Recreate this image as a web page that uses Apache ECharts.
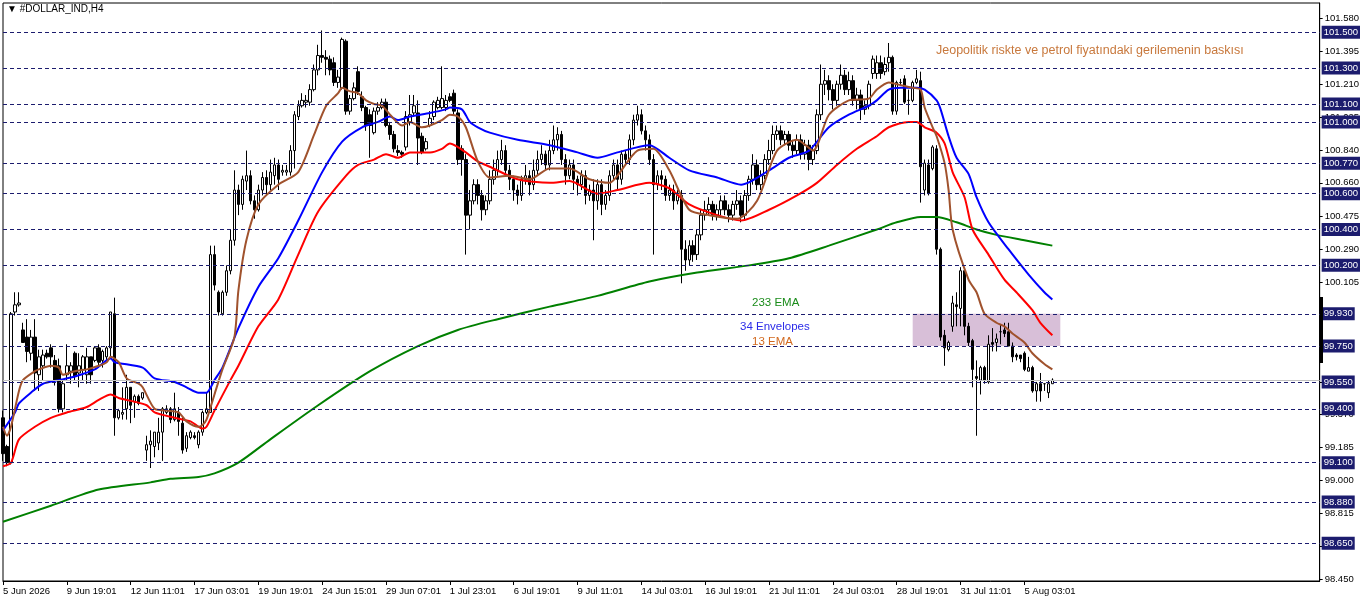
<!DOCTYPE html>
<html>
<head>
<meta charset="utf-8">
<script src="https://cdn.jsdelivr.net/npm/echarts@6/dist/echarts.min.js"></script>
<style>html,body{margin:0;padding:0;background:#fff}#c{width:1362px;height:603px}</style>
</head>
<body>
<div id="c"></div>
<script>
// ---- data ----
const tickLabels = ["5 Jun 2026","9 Jun 19:01","12 Jun 11:01","17 Jun 03:01","19 Jun 19:01","24 Jun 15:01","29 Jun 07:01","1 Jul 23:01","6 Jul 19:01","9 Jul 11:01","14 Jul 03:01","16 Jul 19:01","21 Jul 11:01","24 Jul 03:01","28 Jul 19:01","31 Jul 11:01","5 Aug 03:01"];
const barsPerLabel = 16;
const totalSlots = 331;

const opens = [99.35,99.19,99.10,99.94,99.98,99.84,99.80,99.71,99.80,99.59,
99.64,99.71,99.74,99.67,99.64,99.40,99.59,99.61,99.71,99.60,
99.62,99.59,99.69,99.67,99.74,99.67,99.69,99.74,99.93,99.35,
99.37,99.40,99.52,99.44,99.47,99.46,99.17,99.20,99.19,99.21,
99.27,99.38,99.40,99.34,99.38,99.32,99.18,99.24,99.25,99.20,
99.27,99.38,99.38,100.26,100.05,99.93,100.05,100.17,100.34,100.62,
100.54,100.67,100.70,100.56,100.51,100.62,100.69,100.65,100.70,100.76,
100.72,100.72,100.72,100.84,101.03,101.09,101.11,101.11,101.18,101.29,
101.37,101.36,101.35,101.33,101.22,101.19,101.45,101.06,101.13,101.28,
101.14,101.08,101.04,100.94,101.06,101.08,101.11,100.98,100.93,100.84,
100.83,100.86,101.00,101.05,101.05,100.92,100.85,100.98,101.03,101.08,
101.08,101.08,101.14,101.16,101.05,100.85,100.79,100.48,100.56,100.65,
100.59,100.51,100.56,100.68,100.73,100.79,100.84,100.73,100.68,100.62,
100.59,100.68,100.70,100.65,100.73,100.79,100.82,100.76,100.84,100.90,
100.93,100.79,100.70,100.76,100.68,100.65,100.70,100.59,100.62,100.56,
100.65,100.54,100.59,100.70,100.76,100.68,100.82,100.79,100.90,101.01,
101.04,100.95,100.90,100.79,100.65,100.70,100.68,100.59,100.62,100.56,
100.59,100.29,100.23,100.31,100.26,100.37,100.48,100.51,100.54,100.48,
100.51,100.56,100.51,100.48,100.54,100.56,100.48,100.59,100.68,100.76,
100.65,100.70,100.79,100.84,100.93,100.95,100.90,100.93,100.87,100.84,
100.90,100.82,100.87,100.79,100.84,101.04,101.21,101.23,101.18,101.12,
101.21,101.26,101.18,101.23,101.12,101.15,101.07,101.09,101.27,101.27,
101.33,101.28,101.33,101.36,101.06,101.22,101.24,101.12,101.12,101.22,
101.23,100.62,100.76,100.74,100.85,100.29,99.81,99.73,99.86,99.98,
99.96,100.17,99.86,99.78,99.58,99.56,99.63,99.55,99.77,99.77,
99.83,99.84,99.83,99.75,99.70,99.70,99.71,99.61,99.63,99.50,
99.54,99.54,99.49,99.54];

const closes = [99.15,99.10,99.93,99.98,99.99,99.77,99.72,99.80,99.60,99.69,
99.70,99.69,99.69,99.56,99.40,99.54,99.64,99.64,99.58,99.64,
99.69,99.69,99.59,99.74,99.66,99.72,99.74,99.94,99.35,99.39,
99.38,99.52,99.42,99.47,99.43,99.49,99.20,99.22,99.27,99.27,
99.40,99.40,99.34,99.40,99.33,99.17,99.25,99.27,99.24,99.27,
99.38,99.40,100.26,100.09,99.94,100.05,100.17,100.34,100.62,100.54,
100.68,100.70,100.56,100.51,100.62,100.69,100.65,100.72,100.76,100.68,
100.73,100.73,100.84,101.04,101.09,101.12,101.12,101.18,101.29,101.37,
101.36,101.35,101.29,101.22,101.25,101.46,101.06,101.13,101.19,101.17,
101.08,100.98,100.98,101.06,101.08,101.11,100.98,100.93,100.85,100.83,
100.82,101.03,101.04,101.09,100.91,100.83,100.89,101.02,101.11,101.12,
101.13,101.12,101.12,101.06,100.79,100.79,100.48,100.56,100.65,100.59,
100.51,100.56,100.68,100.73,100.79,100.84,100.73,100.68,100.62,100.59,
100.68,100.70,100.65,100.73,100.79,100.82,100.76,100.84,100.90,100.93,
100.79,100.70,100.76,100.68,100.65,100.70,100.59,100.62,100.56,100.65,
100.54,100.59,100.70,100.76,100.68,100.82,100.79,100.90,101.01,101.04,
100.95,100.90,100.79,100.65,100.70,100.68,100.59,100.62,100.56,100.59,
100.29,100.23,100.31,100.26,100.37,100.48,100.51,100.54,100.48,100.51,
100.56,100.51,100.48,100.54,100.56,100.48,100.59,100.68,100.76,100.65,
100.70,100.79,100.84,100.93,100.95,100.90,100.93,100.87,100.84,100.90,
100.82,100.87,100.79,100.84,101.04,101.21,101.23,101.18,101.12,101.21,
101.26,101.18,101.23,101.12,101.15,101.07,101.09,101.21,101.35,101.33,
101.27,101.32,101.36,101.06,101.22,101.22,101.11,101.12,101.22,101.24,
100.75,100.77,100.60,100.86,100.29,99.80,99.74,99.77,99.99,99.97,
100.17,99.86,99.77,99.62,99.57,99.63,99.56,99.76,99.76,99.79,
99.83,99.82,99.75,99.69,99.69,99.68,99.62,99.63,99.50,99.54,
99.50,99.54,99.54,99.56];

const lows = [99.11,99.08,99.09,99.92,99.97,99.77,99.66,99.67,99.50,99.50,
99.56,99.68,99.63,99.53,99.38,99.38,99.56,99.54,99.56,99.52,
99.56,99.54,99.54,99.66,99.63,99.63,99.67,99.69,99.25,99.34,
99.34,99.34,99.32,99.35,99.42,99.45,99.11,99.07,99.13,99.17,
99.11,99.37,99.32,99.33,99.25,99.15,99.16,99.23,99.23,99.18,
99.25,99.37,99.38,100.06,99.92,99.92,100.03,100.15,100.31,100.48,
100.51,100.62,100.54,100.46,100.50,100.59,100.59,100.62,100.65,100.62,
100.70,100.70,100.70,100.74,101.01,101.08,101.08,101.09,101.17,101.26,
101.33,101.26,101.26,101.20,101.19,101.18,101.04,101.04,101.12,101.15,
101.06,100.95,100.80,100.93,101.04,101.07,100.97,100.90,100.83,100.81,
100.80,100.84,100.98,101.03,100.76,100.82,100.84,100.97,101.01,101.07,
101.07,101.06,101.11,101.04,100.76,100.70,100.26,100.40,100.54,100.54,
100.45,100.48,100.54,100.65,100.70,100.76,100.70,100.62,100.56,100.54,
100.56,100.65,100.59,100.62,100.70,100.76,100.73,100.73,100.82,100.84,
100.76,100.65,100.68,100.62,100.59,100.62,100.54,100.56,100.34,100.51,
100.48,100.51,100.56,100.68,100.62,100.65,100.76,100.76,100.87,100.98,
100.93,100.84,100.76,100.26,100.62,100.62,100.56,100.56,100.51,100.54,
100.10,100.17,100.20,100.22,100.23,100.34,100.45,100.48,100.45,100.45,
100.48,100.48,100.44,100.45,100.51,100.44,100.45,100.56,100.65,100.62,
100.62,100.68,100.76,100.82,100.90,100.87,100.87,100.84,100.80,100.82,
100.79,100.79,100.73,100.76,100.82,101.01,101.15,101.12,101.07,101.09,
101.18,101.15,101.15,101.09,101.07,101.01,101.04,101.07,101.24,101.24,
101.24,101.26,101.28,101.04,101.04,101.20,101.10,101.04,101.11,101.21,
100.55,100.59,100.59,100.73,100.26,99.78,99.64,99.72,99.83,99.86,
99.86,99.81,99.75,99.52,99.25,99.48,99.54,99.54,99.72,99.72,
99.76,99.80,99.75,99.66,99.67,99.66,99.61,99.61,99.49,99.44,
99.44,99.50,99.46,99.54];

const highs = [99.39,99.20,99.94,100.05,100.05,99.88,99.90,99.84,99.90,99.73,
99.73,99.73,99.76,99.70,99.68,99.56,99.76,99.66,99.72,99.71,
99.70,99.74,99.69,99.75,99.76,99.73,99.75,99.94,100.02,99.40,
99.52,99.59,99.52,99.48,99.48,99.49,99.25,99.28,99.27,99.35,
99.41,99.42,99.41,99.49,99.41,99.35,99.27,99.28,99.27,99.28,
99.39,99.49,100.31,100.31,100.06,100.06,100.20,100.40,100.73,100.65,
100.70,100.84,100.73,100.59,100.65,100.72,100.73,100.79,100.80,100.79,
100.76,100.76,100.87,101.06,101.12,101.16,101.15,101.21,101.32,101.43,
101.51,101.40,101.37,101.36,101.29,101.47,101.46,101.15,101.22,101.31,
101.17,101.09,101.07,101.08,101.11,101.13,101.13,101.00,100.95,100.87,
100.84,101.06,101.15,101.15,101.12,100.94,100.91,101.06,101.12,101.14,
101.31,101.15,101.16,101.18,101.07,100.87,100.82,100.62,100.68,100.68,
100.62,100.59,100.73,100.79,100.84,100.90,100.87,100.76,100.70,100.65,
100.70,100.76,100.73,100.79,100.84,100.87,100.84,100.90,100.98,100.97,
100.95,100.82,100.79,100.79,100.70,100.73,100.73,100.65,100.68,100.68,
100.68,100.62,100.73,100.79,100.79,100.84,100.84,100.93,101.04,101.09,
101.07,100.98,100.93,100.82,100.73,100.73,100.70,100.65,100.65,100.62,
100.62,100.34,100.34,100.34,100.40,100.51,100.56,100.58,100.56,100.54,
100.59,100.59,100.54,100.56,100.62,100.59,100.62,100.70,100.82,100.79,
100.73,100.82,100.90,100.98,100.98,100.98,100.95,100.95,100.90,100.93,
100.93,100.90,100.90,100.87,101.07,101.32,101.29,101.26,101.21,101.23,
101.32,101.29,101.28,101.26,101.19,101.18,101.12,101.23,101.37,101.37,
101.37,101.36,101.44,101.37,101.23,101.24,101.26,101.18,101.23,101.29,
101.28,100.79,100.79,100.87,100.87,100.30,99.84,99.78,100.03,100.05,
100.19,100.19,99.88,99.79,99.67,99.64,99.64,99.81,99.85,99.82,
99.87,99.88,99.88,99.77,99.71,99.70,99.72,99.69,99.64,99.55,
99.60,99.54,99.56,99.57];

// indicator lines: [bar index, value]
const ema233 = [[0,98.77],[12,98.86],[24,98.95],[37,98.99],[42,99.01],[49,99.02],[53,99.04],[59,99.10],[67,99.23],[79,99.42],[92,99.61],[104,99.75],[114,99.84],[124,99.90],[137,99.97],[149,100.03],[162,100.11],[174,100.16],[187,100.20],[197,100.24],[207,100.31],[219,100.40],[224,100.44],[230,100.47],[234,100.47],[239,100.44],[244,100.40],[249,100.37],[256,100.34],[263,100.31]];
const envUpper = [[0,99.28],[3,99.38],[4,99.43],[7,99.49],[10,99.54],[14,99.56],[18,99.58],[23,99.62],[27,99.68],[28,99.66],[35,99.63],[38,99.57],[43,99.55],[46,99.52],[49,99.49],[51,99.49],[53,99.56],[55,99.63],[59,99.85],[64,100.08],[69,100.24],[74,100.45],[80,100.72],[85,100.89],[90,100.97],[94,101.00],[97,101.03],[99,101.01],[102,101.03],[107,101.05],[111,101.07],[112,101.08],[115,101.07],[117,101.00],[119,100.97],[122,100.94],[129,100.90],[137,100.87],[144,100.83],[149,100.80],[154,100.83],[162,100.87],[167,100.80],[172,100.73],[179,100.69],[185,100.65],[192,100.73],[197,100.80],[202,100.84],[207,100.97],[212,101.04],[217,101.09],[219,101.12],[222,101.18],[225,101.19],[229,101.19],[231,101.18],[234,101.12],[235,101.07],[237,100.92],[239,100.80],[242,100.71],[244,100.58],[247,100.44],[252,100.29],[257,100.15],[261,100.05],[263,100.01]];
const envLower = [[0,99.08],[2,99.10],[4,99.23],[8,99.30],[12,99.35],[16,99.38],[21,99.41],[24,99.45],[27,99.48],[29,99.46],[33,99.44],[36,99.42],[38,99.38],[43,99.35],[47,99.33],[50,99.29],[51,99.30],[53,99.39],[57,99.56],[59,99.64],[64,99.86],[69,100.01],[74,100.26],[79,100.50],[86,100.70],[89,100.76],[93,100.79],[96,100.82],[99,100.80],[102,100.83],[107,100.83],[110,100.85],[112,100.88],[114,100.86],[116,100.83],[119,100.78],[122,100.75],[129,100.68],[137,100.66],[142,100.67],[149,100.60],[154,100.62],[162,100.66],[167,100.63],[172,100.54],[179,100.48],[185,100.45],[192,100.51],[199,100.59],[204,100.66],[209,100.76],[214,100.85],[219,100.92],[222,100.97],[227,101.00],[229,101.00],[231,100.97],[234,100.94],[236,100.88],[238,100.72],[241,100.58],[243,100.40],[247,100.26],[251,100.12],[254,100.05],[258,99.95],[260,99.88],[263,99.81]];
const ema13 = [[0,99.30],[1,99.25],[2,99.30],[4,99.50],[5,99.56],[8,99.61],[9,99.62],[12,99.64],[14,99.63],[15,99.59],[18,99.61],[21,99.62],[24,99.64],[26,99.66],[27,99.69],[29,99.66],[31,99.57],[34,99.54],[35,99.52],[38,99.40],[41,99.39],[44,99.38],[46,99.33],[49,99.30],[50,99.31],[51,99.34],[53,99.48],[55,99.62],[58,99.80],[59,100.06],[61,100.34],[64,100.54],[69,100.65],[74,100.72],[78,100.93],[81,101.09],[84,101.16],[85,101.19],[87,101.17],[89,101.16],[91,101.12],[93,101.10],[95,101.09],[97,101.04],[100,100.98],[102,101.00],[105,100.97],[107,100.98],[110,101.01],[112,101.04],[114,101.03],[116,100.97],[119,100.78],[122,100.69],[127,100.70],[132,100.68],[137,100.74],[142,100.74],[147,100.68],[152,100.66],[154,100.70],[159,100.84],[163,100.85],[167,100.73],[172,100.51],[177,100.48],[184,100.46],[189,100.56],[194,100.84],[199,100.90],[203,100.84],[207,101.04],[212,101.12],[217,101.13],[219,101.18],[222,101.22],[224,101.21],[226,101.20],[228,101.19],[230,101.18],[231,101.08],[233,100.97],[234,100.92],[236,100.77],[237,100.62],[238,100.40],[242,100.12],[244,100.05],[246,99.93],[249,99.88],[251,99.86],[253,99.82],[256,99.77],[258,99.71],[261,99.65],[263,99.62]];

const levels = [101.5,101.3,101.1,101.0,100.77,100.6,100.4,100.2,99.93,99.75,99.55,99.4,99.1,98.88,98.65];
const axisTicks = [101.58,101.395,101.21,101.025,100.84,100.66,100.475,100.29,100.105,99.92,99.735,99.55,99.37,99.185,99.0,98.815,98.635,98.45];
const zoneBox = {fromBar:228, toBar:265, top:99.93, bottom:99.75};
const bidPrice = 99.56;

// ---- build ----
const cats = [];
for (let i = 0; i < totalSlots; i++) cats.push(String(i));
const candles = opens.map((o, i) => [o, closes[i], lows[i], highs[i]]);
const showTick = (idx) => idx % barsPerLabel === 0 && (idx / barsPerLabel) < tickLabels.length;
const FONT = 'Liberation Sans';

const chart = echarts.init(document.getElementById('c'), null, {renderer: 'canvas'});
const lineS = (name, data, color) => ({
  type: 'line', name, data, smooth: 0.25, symbol: 'none', z: 4,
  lineStyle: {color, width: 2}, silent: true, animation: false
});
chart.setOption({
  backgroundColor: '#fff',
  animation: false,
  textStyle: {fontFamily: FONT},
  grid: {left: 3, right: 41, top: 3, bottom: 22, show: true, borderColor: '#000', borderWidth: 1, backgroundColor: '#fff'},
  xAxis: {
    type: 'category', data: cats, boundaryGap: false,
    axisLine: {show: true, lineStyle: {color: '#000', width: 1}},
    axisTick: {show: true, interval: showTick, length: 4, lineStyle: {color: '#000'}},
    axisLabel: {interval: showTick, formatter: (v, idx) => tickLabels[idx / barsPerLabel] || '', align: 'left', margin: 5, fontSize: 9.5, color: '#000', fontFamily: FONT},
    splitLine: {show: false}
  },
  yAxis: {
    type: 'value', position: 'right', min: 98.44, max: 101.663, scale: true,
    splitLine: {show: false},
    axisLine: {show: true, lineStyle: {color: '#000', width: 1}},
    axisTick: {show: true, customValues: axisTicks, length: 3, inside: false, lineStyle: {color: '#000'}},
    axisLabel: {customValues: axisTicks, formatter: v => v.toFixed(3), fontSize: 9.5, color: '#000', margin: 5, fontFamily: FONT}
  },
  series: [
    {
      type: 'line', data: [], z: 1, silent: true,
      markArea: {silent: true, itemStyle: {color: '#d8bfd8', opacity: 1},
        data: [[{xAxis: zoneBox.fromBar, yAxis: zoneBox.top}, {xAxis: zoneBox.toBar, yAxis: zoneBox.bottom}]]},
      markLine: {silent: true, symbol: 'none', animation: false,
        lineStyle: {color: '#1c1c6e', type: [4, 3], width: 1},
        label: {show: true, position: 'end', distance: 2, formatter: p => p.value.toFixed(3), color: '#fff', backgroundColor: '#1c1c6e', padding: [2, 2, 1, 2], fontSize: 9.5, fontFamily: FONT},
        data: levels.map(v => ({yAxis: v}))}
    },
    {
      type: 'line', data: [], z: 1, silent: true,
      markLine: {silent: true, symbol: 'none', animation: false,
        lineStyle: {color: '#c0c0c0', type: 'solid', width: 1}, label: {show: false},
        data: [{yAxis: bidPrice}]}
    },
    {
      type: 'candlestick', data: candles, z: 3, barWidth: 3, silent: true,
      itemStyle: {color: '#fff', color0: '#000', borderColor: '#000', borderColor0: '#000', borderWidth: 1}
    },
    lineS('233 EMA', ema233, '#008000'),
    lineS('Env lower', envLower, '#ff0000'),
    lineS('Env upper', envUpper, '#0000ff'),
    lineS('13 EMA', ema13, '#a0522d')
  ],
  graphic: [
    {type: 'text', left: 7, top: 4, z: 10, style: {text: '▼ #DOLLAR_IND,H4', font: '10px "' + FONT + '"', fill: '#000'}},
    {type: 'text', left: 936, top: 44, z: 10, style: {text: 'Jeopolitik riskte ve petrol fiyatındaki gerilemenin baskısı', font: '12.5px "' + FONT + '"', fill: '#c8783c'}},
    {type: 'text', left: 752, top: 297, z: 10, style: {text: '233 EMA', font: '11.5px "' + FONT + '"', fill: '#1a8c1a'}},
    {type: 'text', left: 740, top: 321, z: 10, style: {text: '34 Envelopes', font: '11.5px "' + FONT + '"', fill: '#2a2ae8'}},
    {type: 'text', left: 752, top: 336, z: 10, style: {text: '13 EMA', font: '11.5px "' + FONT + '"', fill: '#d2691e'}},
    {type: 'rect', left: 1320, top: 297, z: 10, shape: {width: 3, height: 66}, style: {fill: '#000'}}
  ]
});
</script>
</body>
</html>
